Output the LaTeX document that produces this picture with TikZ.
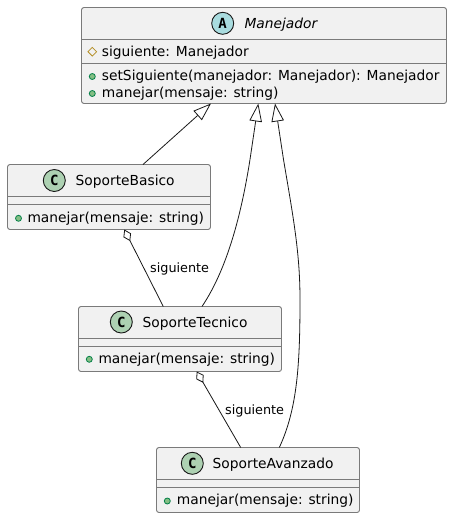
\documentclass[tikz,border=0pt]{standalone}
\usepackage{fontspec}
\setmainfont{DejaVu Sans}
\newfontfamily\glyphfont{DejaVu Sans Mono}
\usetikzlibrary{arrows.meta,shapes.geometric}
\definecolor{boxfill}{HTML}{F1F1F1}
\definecolor{boxline}{HTML}{7A7A7A}
\definecolor{classcirc}{HTML}{ADD1B2}
\definecolor{abscirc}{HTML}{A9DCDF}
\definecolor{pubfill}{HTML}{84BE84}
\definecolor{publine}{HTML}{038048}
\definecolor{protline}{HTML}{B38D22}
\definecolor{ink}{HTML}{181818}
\tikzset{
  x=1pt,y=-1pt,
  classbox/.style={draw=boxline,fill=boxfill,line width=0.9pt,rounded corners=2.5pt,inner sep=0pt,outer sep=0pt,minimum width=#1,text width=0pt},
  sepline/.style={draw=boxline,line width=0.9pt},
  member/.style={anchor=base west,inner sep=0pt,text=black,font=\fontsize{13.8}{16}\selectfont},
  titletext/.style={anchor=base west,inner sep=0pt,text=black,font=\fontsize{13.8}{16}\selectfont},
  edgelabel/.style={anchor=base west,inner sep=0pt,text=black,font=\fontsize{12.8}{15}\selectfont},
  classicon/.style={circle,draw=ink,line width=0.9pt,minimum size=22pt,inner sep=0pt,fill=#1,text=black,font=\glyphfont\bfseries\fontsize{14}{14}\selectfont},
  pubicon/.style={circle,draw=publine,fill=pubfill,line width=0.8pt,minimum size=6pt,inner sep=0pt},
  proticon/.style={diamond,draw=protline,line width=0.8pt,minimum size=9pt,inner sep=0pt},
  rel/.style={draw=ink,line width=0.8pt},
  inherit/.style={rel,{Triangle[open,length=18pt,width=12.5pt,fill=white]}-},
  aggreg/.style={rel,{Diamond[open,length=13pt,width=8.5pt,fill=white]}-},
}
\begin{document}
\begin{tikzpicture}
\useasboundingbox (0,0) rectangle (452,517);
% class boxes
\node[classbox=365pt,minimum height=96pt] (man) at (264,55.5) {};
\node[classbox=203pt,minimum height=65pt] (bas) at (109,197) {};
\node[classbox=203pt,minimum height=65pt] (tec) at (180,339) {};
\node[classbox=203pt,minimum height=65pt] (ava) at (258,480) {};
% separators
\draw[sepline] ([yshift=-32pt]man.north west) -- ([yshift=-32pt]man.north east);
\draw[sepline] ([yshift=-56pt]man.north west) -- ([yshift=-56pt]man.north east);
\draw[sepline] ([yshift=-32pt]bas.north west) -- ([yshift=-32pt]bas.north east);
\draw[sepline] ([yshift=-40pt]bas.north west) -- ([yshift=-40pt]bas.north east);
\draw[sepline] ([yshift=-32pt]tec.north west) -- ([yshift=-32pt]tec.north east);
\draw[sepline] ([yshift=-40pt]tec.north west) -- ([yshift=-40pt]tec.north east);
\draw[sepline] ([yshift=-32pt]ava.north west) -- ([yshift=-32pt]ava.north east);
\draw[sepline] ([yshift=-40pt]ava.north west) -- ([yshift=-40pt]ava.north east);
% header icons and titles
\node[classicon=abscirc] (manicon) at (222.7,23.3) {A};
\node[titletext,font=\itshape\fontsize{13.8}{16}\selectfont] (mantitle) at (244.3,28.5) {Manejador};
\node[classicon=classcirc] (basicon) at (54.3,180.5) {C};
\node[titletext] (bastitle) at (75.5,185.5) {SoporteBasico};
\node[classicon=classcirc] (tecicon) at (121.3,322) {C};
\node[titletext] (tectitle) at (142.5,327) {SoporteTecnico};
\node[classicon=classcirc] (avaicon) at (192.3,463.3) {C};
\node[titletext] (avatitle) at (212.5,468.5) {SoporteAvanzado};
% members
\node[proticon] (manprot) at (92.3,51.7) {};
\node[member] (manfield) at (101.7,56.5) {siguiente: Manejador};
\node[pubicon] (manpub1) at (92.3,76.5) {};
\node[member] (manm1) at (101.7,80.5) {setSiguiente(manejador: Manejador): Manejador};
\node[pubicon] (manpub2) at (92.3,93.5) {};
\node[member] (manm2) at (101.7,97.5) {manejar(mensaje: string)};
\node[pubicon] (baspub) at (18.5,218.3) {};
\node[member] (basm) at (27.3,222) {manejar(mensaje: string)};
\node[pubicon] (tecpub) at (89.3,359.3) {};
\node[member] (tecm) at (98.3,363.5) {manejar(mensaje: string)};
\node[pubicon] (avapub) at (167.3,501) {};
\node[member] (avam) at (176.7,504.5) {manejar(mensaje: string)};
% connectors
\draw[inherit] ([xshift=129.5pt]man.south west) -- ([xshift=135.5pt]bas.north west);
\draw[inherit] ([xshift=176.8pt]man.south west) -- ([xshift=168.5pt,yshift=-56pt]man.south west)
  .. controls ([xshift=160pt,yshift=-110pt]man.south west) and ([xshift=146pt,yshift=-165pt]man.south west) .. ([xshift=123.5pt]tec.north west);
\draw[inherit] ([xshift=193.5pt]man.south west) -- ([xshift=202pt,yshift=-56pt]man.south west)
  .. controls ([xshift=212pt,yshift=-115pt]man.south west) and ([xshift=218.5pt,yshift=-150pt]man.south west) .. ([xshift=218.5pt,yshift=-196pt]man.south west)
  .. controls ([xshift=218.5pt,yshift=-260pt]man.south west) and ([xshift=216pt,yshift=-305pt]man.south west) .. ([xshift=122.8pt]ava.north west);
\draw[aggreg] ([xshift=116.8pt]bas.south west) -- ([xshift=84.8pt]tec.north west);
\draw[aggreg] ([xshift=118.2pt]tec.south west) -- ([xshift=84.2pt]ava.north west);
% edge labels
\node[edgelabel] (lab1) at (150,272.5) {siguiente};
\node[edgelabel] (lab2) at (225,414) {siguiente};
\end{tikzpicture}
\end{document}
